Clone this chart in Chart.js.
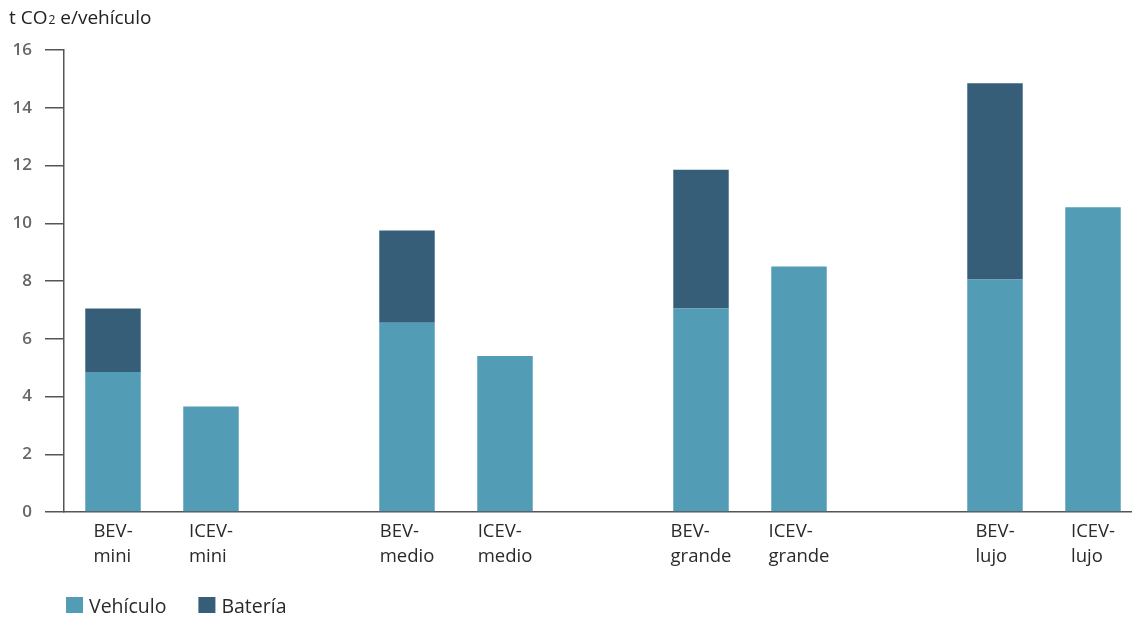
<!DOCTYPE html>
<html>
<head>
<meta charset="utf-8">
<script src="https://cdn.jsdelivr.net/npm/chart.js@4"></script>
<style>
html, body { margin: 0; padding: 0; overflow: hidden; background: #fff; }
#wrap { position: absolute; left: 0; top: 0; width: 1142px; height: 618px; }
</style>
</head>
<body>
<div id="wrap"><canvas id="c"></canvas></div>
<script>
// ---- data ----
const categories = ["BEV-mini", "ICEV-mini", "", "BEV-medio", "ICEV-medio", "", "BEV-grande", "ICEV-grande", "", "BEV-lujo", "ICEV-lujo"];
const categoryLines = [["BEV-", "mini"], ["ICEV-", "mini"], [], ["BEV-", "medio"], ["ICEV-", "medio"], [], ["BEV-", "grande"], ["ICEV-", "grande"], [], ["BEV-", "lujo"], ["ICEV-", "lujo"]];
const vehiculo = [4.85, 3.65, null, 6.55, 5.4, null, 7.05, 8.5, null, 8.05, 10.55];
const bateria  = [2.2,  null, null, 3.2,  null, null, 4.8,  null, null, 6.8,  null];
const seriesNames = ["Vehículo", "Batería"];
const yTicks = [0, 2, 4, 6, 8, 10, 12, 14, 16];
const titleParts = ["t CO", "2", " e/vehículo"];

const colVeh = "#529cb5";
const colBat = "#375e78";
const FONT = "'Open Sans', 'Noto Sans', sans-serif";

const customText = {
  id: "customText",
  afterDraw(chart) {
    const ctx = chart.ctx;
    const x = chart.scales.x;
    ctx.save();
    // title
    ctx.fillStyle = "#222";
    ctx.textBaseline = "alphabetic";
    ctx.textAlign = "left";
    let tx = 9;
    ctx.font = "19px " + FONT;
    ctx.fillText(titleParts[0], tx, 24);
    tx += ctx.measureText(titleParts[0]).width + 1;
    ctx.font = "12px " + FONT;
    ctx.fillText(titleParts[1], tx, 24);
    tx += ctx.measureText(titleParts[1]).width;
    ctx.font = "19px " + FONT;
    ctx.fillText(titleParts[2], tx, 24);

    // x labels: block centered, lines left aligned
    ctx.font = "18.5px " + FONT;
    ctx.fillStyle = "#2a2a2a";
    categoryLines.forEach((lines, i) => {
      if (!lines.length) return;
      const cx = x.getPixelForValue(i);
      let w = 0;
      lines.forEach(l => { w = Math.max(w, ctx.measureText(l).width); });
      const left = cx - w / 2;
      lines.forEach((l, j) => ctx.fillText(l, left, 537 + j * 25));
    });

    // legend
    const items = chart.data.datasets.map(d => ({ label: d.label, color: d.backgroundColor }));
    let lx = 66;
    ctx.font = "19.5px " + FONT;
    items.forEach(it => {
      ctx.fillStyle = it.color;
      ctx.fillRect(lx, 597, 17, 16);
      ctx.fillStyle = "#2a2a2a";
      ctx.fillText(it.label, lx + 23, 613);
      lx += 23 + ctx.measureText(it.label).width + 32;
    });
    ctx.restore();
  }
};

new Chart(document.getElementById("c"), {
  type: "bar",
  data: {
    labels: categories,
    datasets: [
      { label: seriesNames[0], data: vehiculo, backgroundColor: colVeh, borderWidth: 0 },
      { label: seriesNames[1], data: bateria, backgroundColor: colBat, borderWidth: 0 }
    ]
  },
  options: {
    responsive: true,
    maintainAspectRatio: false,
    animation: false,
    events: [],
    layout: { padding: { top: 50, left: 10, right: 0, bottom: 0 } },
    datasets: { bar: { categoryPercentage: 1, barPercentage: 0.566 } },
    plugins: { legend: { display: false }, tooltip: { enabled: false }, title: { display: false } },
    scales: {
      x: {
        stacked: true,
        grid: { display: false },
        border: { display: true, color: "#555", width: 1.5 },
        ticks: { display: false },
        afterFit: s => { s.height = 106; }
      },
      y: {
        stacked: true,
        min: 0, max: 16,
        afterBuildTicks: s => { s.ticks = yTicks.map(v => ({ value: v })); },
        grid: { drawOnChartArea: false, drawTicks: true, tickLength: 19, color: "#555", lineWidth: 1.5 },
        border: { display: true, color: "#555", width: 1.5 },
        ticks: { padding: 13, color: "#666", font: { family: FONT, size: 17, weight: "600" } },
        afterFit: s => { s.width = 54; }
      }
    }
  },
  plugins: [customText]
});
</script>
</body>
</html>
